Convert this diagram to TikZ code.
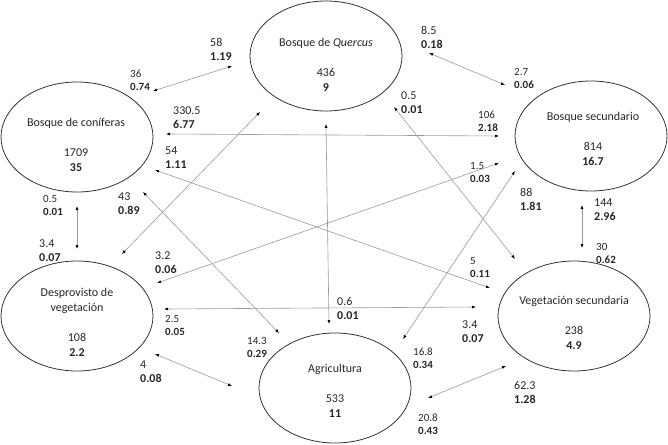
\documentclass[tikz,border=0pt]{standalone}
\usepackage{fontspec}
\setmainfont{Carlito}
\usetikzlibrary{shapes.geometric, arrows.meta}

\begin{document}
\begin{tikzpicture}[x=1pt, y=-1pt,
    zone/.style={ellipse, draw=black!80, line width=0.8pt, minimum width=152pt, minimum height=110pt, inner sep=0pt},
    zonetext/.style={align=center, inner sep=0pt, text=black!85, font=\fontsize{12}{15}\selectfont},
    labbig/.style={anchor=west, align=left, inner sep=0pt, text=black!85, font=\fontsize{12}{14}\selectfont},
    labsmall/.style={anchor=west, align=left, inner sep=0pt, text=black!85, font=\fontsize{11}{13}\selectfont},
    flow/.style={{Latex[length=4pt,width=3pt,color=black]}-{Latex[length=4pt,width=3pt,color=black]}, draw=black!40, line width=0.6pt}]
    \useasboundingbox (0,0) rectangle (668,444);

    \node[zone] (quercus) at (326, 56) {};
    \node[zone] (conif) at (77, 137) {};
    \node[zone] (bsec) at (591, 136) {};
    \node[zone] (desp) at (77, 316) {};
    \node[zone] (vsec) at (574, 316) {};
    \node[zone] (agric) at (335, 388) {};

    \node[zonetext] (quercust) at (326, 65) {Bosque de \textit{Quercus}\\[15pt]436\\\textbf{9}};
    \node[zonetext] (conift) at (76, 145) {Bosque de coníferas\\[15pt]1709\\\textbf{35}};
    \node[zonetext] (bsect) at (593, 139) {Bosque secundario\\[15pt]814\\\textbf{16.7}};
    \node[zonetext] (despt) at (77, 322) {Desprovisto de\\vegetación\\[15pt]108\\\textbf{2.2}};
    \node[zonetext] (vsect) at (574, 323) {Vegetación secundaria\\[15pt]238\\\textbf{4.9}};
    \node[zonetext] (agrict) at (335, 391) {Agricultura\\[15pt]533\\\textbf{11}};

    \node[labbig] (l58) at (210, 49) {58\\\textbf{1.19}};
    \node[labsmall] (l36) at (130, 80) {36\\\textbf{0.74}};
    \node[labbig] (l330) at (173, 118) {330.5\\\textbf{6.77}};
    \node[labbig] (l54) at (165, 158) {54\\\textbf{1.11}};
    \node[labbig] (l43) at (118, 204) {43\\\textbf{0.89}};
    \node[labsmall] (l05a) at (43, 205) {0.5\\\textbf{0.01}};
    \node[labbig] (l34a) at (39, 251) {3.4\\\textbf{0.07}};
    \node[labbig] (l32) at (155, 263) {3.2\\\textbf{0.06}};
    \node[labsmall] (l25) at (165, 325) {2.5\\\textbf{0.05}};
    \node[labbig] (l4) at (140, 372) {4\\\textbf{0.08}};
    \node[labsmall] (l143) at (247, 347) {14.3\\\textbf{0.29}};
    \node[labbig] (l85) at (421, 37) {8.5\\\textbf{0.18}};
    \node[labsmall] (l27) at (514, 78) {2.7\\\textbf{0.06}};
    \node[labbig] (l05b) at (401, 103) {0.5\\\textbf{0.01}};
    \node[labsmall] (l106) at (478, 121) {106\\\textbf{2.18}};
    \node[labsmall] (l15) at (470, 172) {1.5\\\textbf{0.03}};
    \node[labbig] (l88) at (520, 199) {88\\\textbf{1.81}};
    \node[labbig] (l144) at (594, 210) {144\\\textbf{2.96}};
    \node[labsmall] (l30) at (596, 253) {30\\\textbf{0.62}};
    \node[labsmall] (l5) at (470, 268) {5\\\textbf{0.11}};
    \node[labbig] (l06) at (337, 308) {0.6\\\textbf{0.01}};
    \node[labbig] (l34b) at (462, 332) {3.4\\\textbf{0.07}};
    \node[labsmall] (l168) at (413, 358) {16.8\\\textbf{0.34}};
    \node[labbig] (l623) at (514, 392) {62.3\\\textbf{1.28}};
    \node[labsmall] (l208) at (418, 424) {20.8\\\textbf{0.43}};

    \coordinate (cq1) at (153, 91);   \coordinate (cq2) at (232, 66);
    \coordinate (qb1) at (429, 53);   \coordinate (qb2) at (505, 85);
    \coordinate (cb1) at (166, 134);  \coordinate (cb2) at (499, 136);
    \coordinate (cv1) at (155, 170);  \coordinate (cv2) at (490, 288);
    \coordinate (ca1) at (143, 192);  \coordinate (ca2) at (279, 333);
    \coordinate (cd1) at (77, 206);   \coordinate (cd2) at (77, 249);
    \coordinate (qd1) at (260, 112);  \coordinate (qd2) at (122, 254);
    \coordinate (qa1) at (326, 124);  \coordinate (qa2) at (329, 324);
    \coordinate (qv1) at (394, 107);  \coordinate (qv2) at (515, 259);
    \coordinate (db1) at (157, 283);  \coordinate (db2) at (499, 163);
    \coordinate (dv1) at (164, 309);  \coordinate (dv2) at (476, 307);
    \coordinate (da1) at (155, 354);  \coordinate (da2) at (232, 386);
    \coordinate (ab1) at (403, 339);  \coordinate (ab2) at (515, 171);
    \coordinate (bv1) at (582, 205);  \coordinate (bv2) at (582, 248);
    \coordinate (av1) at (428, 398);  \coordinate (av2) at (506, 366);

    \draw
    (cq1) edge [flow] (cq2)
    (qb1) edge [flow] (qb2)
    (cb1) edge [flow] (cb2)
    (cv1) edge [flow] (cv2)
    (ca1) edge [flow] (ca2)
    (cd1) edge [flow] (cd2)
    (qd1) edge [flow] (qd2)
    (qa1) edge [flow] (qa2)
    (qv1) edge [flow] (qv2)
    (db1) edge [flow] (db2)
    (dv1) edge [flow] (dv2)
    (da1) edge [flow] (da2)
    (ab1) edge [flow] (ab2)
    (bv1) edge [flow] (bv2)
    (av1) edge [flow] (av2);
\end{tikzpicture}
\end{document}
